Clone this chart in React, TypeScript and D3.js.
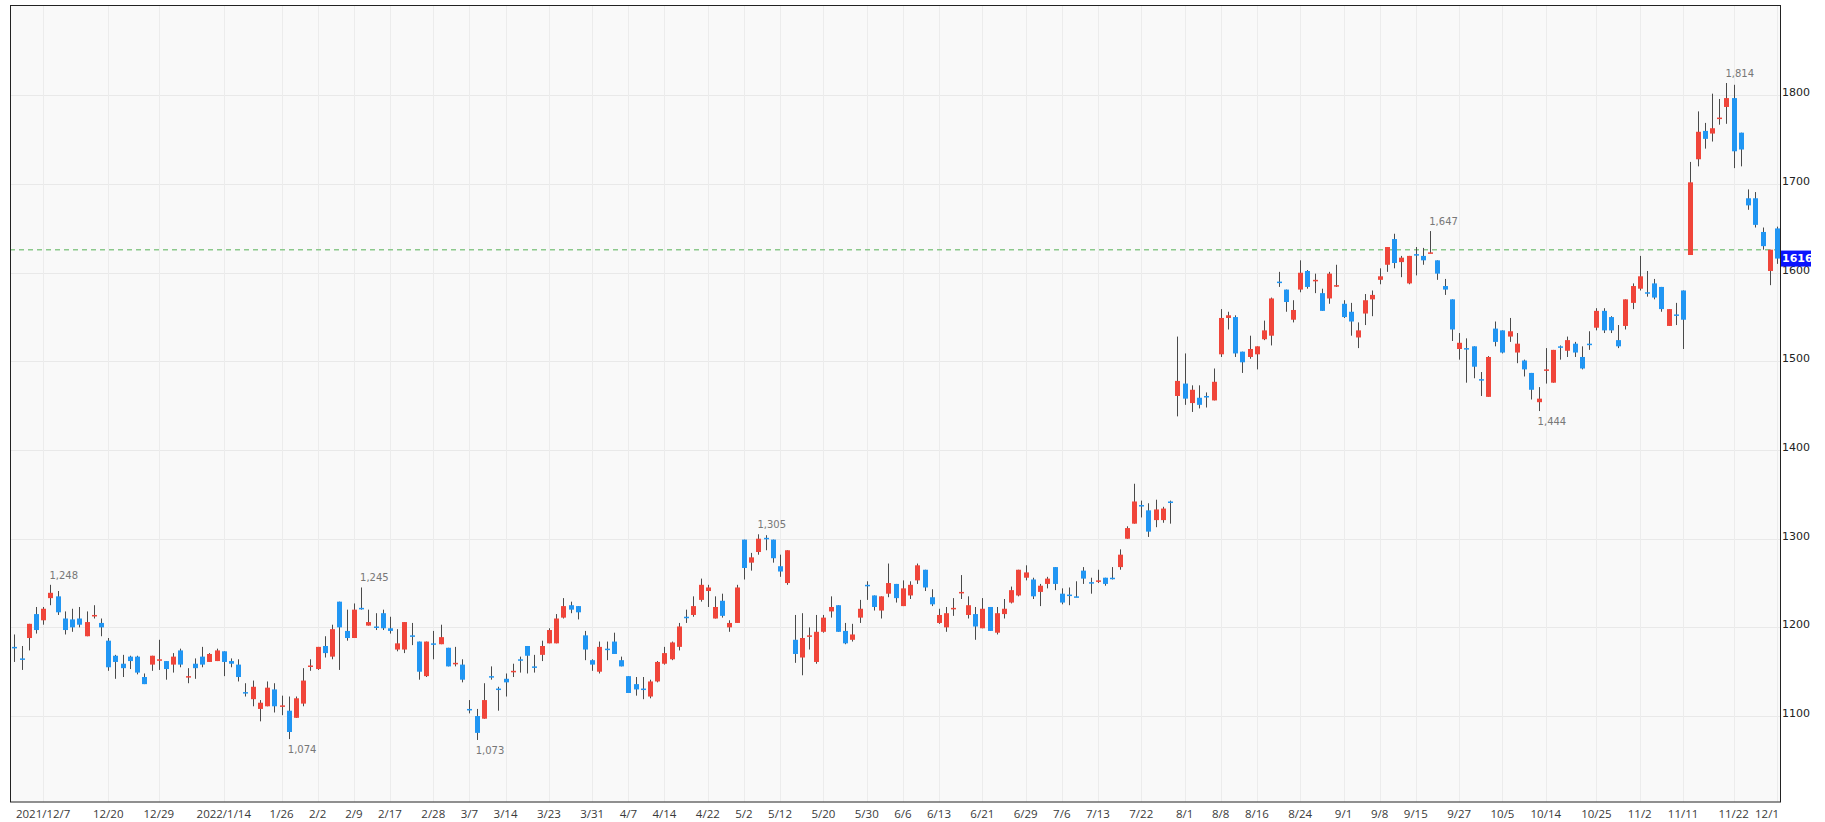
import React from "react";
import * as d3 from "d3";

// daily candles, 2021/12/1 - 2022/12/1 (Tokyo trading days)
const firstDay = "2021-12-01";
const lastDay = "2022-12-01";
const holidays = [
  "2021-12-31", "2022-01-03", "2022-01-10", "2022-02-11", "2022-02-23", "2022-03-21",
  "2022-04-29", "2022-05-03", "2022-05-04", "2022-05-05", "2022-07-18", "2022-08-11",
  "2022-09-19", "2022-09-23", "2022-10-10", "2022-11-03", "2022-11-23",
];

const openPrices = [
  1178, 1165, 1188, 1215, 1208, 1233, 1235, 1210, 1209, 1210,
  1190, 1213, 1205, 1185, 1168, 1159, 1167, 1167, 1144, 1158,
  1163, 1162, 1158, 1174, 1144, 1159, 1167, 1161, 1162, 1173,
  1162, 1158, 1127, 1119, 1108, 1111, 1130, 1111, 1106, 1098,
  1114, 1156, 1153, 1179, 1167, 1229, 1196, 1188, 1222, 1202,
  1201, 1216, 1199, 1175, 1175, 1191, 1184, 1145, 1182, 1181,
  1177, 1159, 1158, 1108, 1100, 1097, 1145, 1131, 1142, 1150,
  1164, 1179, 1156, 1169, 1182, 1182, 1211, 1225, 1224, 1191,
  1163, 1150, 1176, 1184, 1163, 1145, 1136, 1131, 1122, 1139,
  1159, 1164, 1178, 1212, 1214, 1231, 1241, 1210, 1230, 1200,
  1205, 1299, 1273, 1285, 1301, 1299, 1269, 1250, 1186, 1166,
  1190, 1161, 1195, 1218, 1225, 1196, 1186, 1211, 1248, 1236,
  1219, 1238, 1249, 1224, 1236, 1253, 1265, 1234, 1205, 1200,
  1221, 1239, 1214, 1215, 1199, 1223, 1194, 1215, 1228, 1236,
  1256, 1254, 1240, 1249, 1268, 1238, 1237, 1235, 1264, 1251,
  1252, 1256, 1256, 1268, 1300, 1317, 1338, 1332, 1321, 1321,
  1342, 1461, 1475, 1453, 1459, 1461, 1456, 1508, 1549, 1550,
  1511, 1505, 1508, 1525, 1529, 1590, 1581, 1547, 1581, 1602,
  1591, 1577, 1571, 1585, 1565, 1556, 1527, 1554, 1570, 1592,
  1609, 1638, 1612, 1588, 1621, 1619, 1622, 1614, 1585, 1570,
  1514, 1515, 1517, 1480, 1460, 1537, 1535, 1528, 1510, 1501,
  1487, 1454, 1490, 1476, 1517, 1512, 1520, 1505, 1520, 1538,
  1557, 1550, 1524, 1540, 1566, 1582, 1578, 1588, 1584, 1540,
  1553, 1580, 1620, 1728, 1760, 1757, 1774, 1787, 1797, 1758,
  1684, 1684, 1646, 1602, 1650,
];

const highPrices = [
  1192, 1179, 1204, 1223, 1223, 1248, 1241, 1218, 1221, 1223,
  1218, 1225, 1210, 1188, 1169, 1169, 1168, 1168, 1148, 1168,
  1186, 1162, 1171, 1176, 1154, 1165, 1178, 1171, 1176, 1173,
  1165, 1164, 1137, 1140, 1118, 1139, 1137, 1123, 1122, 1122,
  1154, 1164, 1178, 1190, 1203, 1229, 1220, 1227, 1245, 1220,
  1216, 1220, 1212, 1198, 1206, 1205, 1184, 1184, 1196, 1203,
  1177, 1178, 1164, 1118, 1108, 1137, 1156, 1133, 1148, 1159,
  1167, 1179, 1169, 1185, 1199, 1215, 1233, 1229, 1224, 1196,
  1164, 1184, 1184, 1194, 1167, 1145, 1144, 1144, 1141, 1162,
  1178, 1184, 1205, 1220, 1235, 1255, 1248, 1235, 1238, 1208,
  1248, 1299, 1284, 1305, 1304, 1299, 1282, 1287, 1214, 1216,
  1200, 1214, 1214, 1235, 1225, 1205, 1204, 1231, 1252, 1236,
  1235, 1272, 1249, 1253, 1252, 1272, 1265, 1243, 1221, 1223,
  1233, 1259, 1235, 1223, 1233, 1223, 1223, 1232, 1246, 1265,
  1270, 1256, 1249, 1257, 1268, 1244, 1245, 1252, 1268, 1256,
  1265, 1256, 1268, 1288, 1314, 1362, 1343, 1340, 1344, 1336,
  1343, 1528, 1509, 1473, 1473, 1465, 1492, 1559, 1556, 1552,
  1511, 1529, 1517, 1546, 1572, 1601, 1581, 1569, 1614, 1603,
  1599, 1582, 1601, 1609, 1569, 1566, 1544, 1576, 1580, 1605,
  1629, 1644, 1619, 1619, 1629, 1628, 1647, 1614, 1593, 1570,
  1532, 1526, 1517, 1488, 1506, 1545, 1535, 1549, 1532, 1502,
  1487, 1471, 1515, 1513, 1518, 1528, 1522, 1517, 1534, 1560,
  1560, 1551, 1541, 1570, 1588, 1619, 1602, 1593, 1584, 1559,
  1566, 1580, 1725, 1782, 1769, 1802, 1796, 1814, 1812, 1758,
  1694, 1691, 1651, 1626, 1652,
];

const lowPrices = [
  1161, 1152, 1174, 1193, 1203, 1225, 1214, 1192, 1195, 1200,
  1190, 1210, 1190, 1151, 1142, 1144, 1153, 1147, 1136, 1151,
  1152, 1141, 1149, 1155, 1137, 1142, 1155, 1161, 1162, 1145,
  1155, 1139, 1122, 1111, 1094, 1111, 1104, 1101, 1074, 1098,
  1111, 1151, 1152, 1166, 1164, 1152, 1185, 1188, 1220, 1202,
  1197, 1197, 1193, 1173, 1171, 1180, 1141, 1144, 1164, 1181,
  1156, 1156, 1138, 1103, 1073, 1097, 1141, 1106, 1122, 1144,
  1149, 1148, 1149, 1162, 1182, 1182, 1210, 1216, 1209, 1163,
  1151, 1148, 1163, 1170, 1156, 1126, 1123, 1119, 1120, 1138,
  1158, 1163, 1174, 1205, 1212, 1229, 1223, 1210, 1211, 1195,
  1205, 1254, 1264, 1282, 1287, 1273, 1257, 1248, 1160, 1146,
  1175, 1159, 1194, 1211, 1195, 1181, 1184, 1205, 1231, 1219,
  1210, 1234, 1228, 1224, 1232, 1249, 1241, 1224, 1204, 1195,
  1213, 1232, 1210, 1186, 1199, 1196, 1192, 1210, 1227, 1235,
  1253, 1232, 1224, 1244, 1242, 1226, 1225, 1234, 1249, 1238,
  1250, 1247, 1254, 1265, 1300, 1317, 1324, 1302, 1313, 1318,
  1317, 1438, 1451, 1443, 1447, 1448, 1456, 1505, 1536, 1505,
  1487, 1503, 1491, 1524, 1518, 1584, 1556, 1544, 1578, 1582,
  1577, 1557, 1565, 1584, 1549, 1529, 1515, 1541, 1551, 1587,
  1601, 1605, 1595, 1587, 1597, 1609, 1622, 1592, 1575, 1523,
  1502, 1476, 1481, 1461, 1460, 1517, 1509, 1522, 1498, 1483,
  1457, 1444, 1475, 1476, 1502, 1505, 1505, 1491, 1513, 1535,
  1532, 1532, 1515, 1536, 1559, 1580, 1573, 1570, 1556, 1540,
  1541, 1514, 1620, 1720, 1740, 1748, 1767, 1768, 1718, 1720,
  1671, 1651, 1626, 1586, 1610,
];

const closePrices = [
  1177, 1164, 1204, 1197, 1221, 1239, 1217, 1197, 1200, 1203,
  1206, 1214, 1200, 1155, 1161, 1154, 1162, 1149, 1136, 1168,
  1164, 1153, 1167, 1158, 1145, 1154, 1158, 1170, 1174, 1161,
  1159, 1144, 1126, 1133, 1115, 1132, 1111, 1112, 1082, 1120,
  1140, 1157, 1178, 1171, 1198, 1200, 1188, 1220, 1221, 1206,
  1200, 1199, 1196, 1182, 1206, 1190, 1150, 1184, 1181, 1189,
  1156, 1160, 1141, 1107, 1081, 1118, 1144, 1130, 1138, 1151,
  1163, 1168, 1155, 1179, 1197, 1210, 1224, 1220, 1217, 1175,
  1158, 1178, 1175, 1170, 1156, 1126, 1130, 1130, 1139, 1161,
  1171, 1183, 1201, 1211, 1224, 1248, 1245, 1223, 1213, 1205,
  1245, 1267, 1279, 1300, 1300, 1278, 1263, 1287, 1170, 1188,
  1191, 1195, 1211, 1223, 1195, 1182, 1192, 1221, 1247, 1223,
  1235, 1250, 1233, 1244, 1248, 1270, 1245, 1226, 1214, 1216,
  1222, 1240, 1225, 1201, 1221, 1196, 1216, 1221, 1242, 1265,
  1262, 1235, 1247, 1255, 1249, 1228, 1236, 1234, 1255, 1250,
  1253, 1249, 1255, 1282, 1312, 1342, 1337, 1308, 1333, 1334,
  1341, 1478, 1458, 1468, 1451, 1460, 1477, 1549, 1552, 1509,
  1499, 1514, 1517, 1535, 1571, 1589, 1567, 1558, 1600, 1584,
  1592, 1557, 1599, 1586, 1550, 1545, 1535, 1569, 1575, 1596,
  1629, 1611, 1617, 1619, 1620, 1614, 1623, 1599, 1581, 1536,
  1521, 1514, 1494, 1479, 1505, 1522, 1510, 1534, 1520, 1491,
  1468, 1458, 1491, 1513, 1516, 1524, 1510, 1492, 1519, 1557,
  1535, 1535, 1517, 1570, 1585, 1596, 1577, 1572, 1559, 1559,
  1552, 1547, 1702, 1759, 1751, 1763, 1775, 1797, 1737, 1739,
  1676, 1654, 1630, 1626, 1616,
];

const tickDates = [
  "2021-12-07", "2021-12-20", "2021-12-29", "2022-01-14", "2022-01-26", "2022-02-02",
  "2022-02-09", "2022-02-17", "2022-02-28", "2022-03-07", "2022-03-14", "2022-03-23",
  "2022-03-31", "2022-04-07", "2022-04-14", "2022-04-22", "2022-05-02", "2022-05-12",
  "2022-05-20", "2022-05-30", "2022-06-06", "2022-06-13", "2022-06-21", "2022-06-29",
  "2022-07-06", "2022-07-13", "2022-07-22", "2022-08-01", "2022-08-08", "2022-08-16",
  "2022-08-24", "2022-09-01", "2022-09-08", "2022-09-15", "2022-09-27", "2022-10-05",
  "2022-10-14", "2022-10-25", "2022-11-02", "2022-11-11", "2022-11-22", "2022-12-01",
];
const tickLabels = [
  "2021/12/7", "12/20", "12/29", "2022/1/14", "1/26", "2/2",
  "2/9", "2/17", "2/28", "3/7", "3/14", "3/23",
  "3/31", "4/7", "4/14", "4/22", "5/2", "5/12",
  "5/20", "5/30", "6/6", "6/13", "6/21", "6/29",
  "7/6", "7/13", "7/22", "8/1", "8/8", "8/16",
  "8/24", "9/1", "9/8", "9/15", "9/27", "10/5",
  "10/14", "10/25", "11/2", "11/11", "11/22", "12/1",
];

const priceTicks = [1100, 1200, 1300, 1400, 1500, 1600, 1700, 1800];

// local highs / lows that get a price note
const markIndex = [5, 38, 48, 64, 103, 196, 211, 237];
const markKind = ["high", "low", "high", "low", "high", "high", "low", "high"];

function tradingDays() {
  const out: string[] = [];
  const fmt = d3.utcFormat("%Y-%m-%d");
  const days = d3.utcDay.range(new Date(firstDay + "T00:00:00Z"), d3.utcDay.offset(new Date(lastDay + "T00:00:00Z"), 1));
  days.forEach((d) => {
    const wd = d.getUTCDay();
    const key = fmt(d);
    if (wd === 0 || wd === 6) return;
    if (holidays.includes(key)) return;
    out.push(key);
  });
  return out;
}

const left = 10, top = 5, right = 1780, bottom = 801.5;
const upColor = "#f0453a";
const downColor = "#2196f3";

export default function App() {
  const dates = tradingDays();
  const x = d3.scalePoint<string>().domain(dates).range([14.3, 1777]);
  const y = d3.scaleLinear().domain([1003.6, 1902]).range([bottom, top]);
  const fmtNum = d3.format(",");

  const lastIdx = closePrices.length - 1;
  const prevClose = closePrices[lastIdx - 1];
  const lastClose = closePrices[lastIdx];
  const bodyW = 5;

  return (
    <svg width={1825} height={822} style={{ position: "absolute", left: 0, top: 0, background: "#fff" }}>
      <defs>
        <clipPath id="plot">
          <rect x={left} y={top} width={right - left} height={bottom - top} />
        </clipPath>
      </defs>
      <rect x={left} y={top} width={right - left} height={bottom - top} fill="#f9f9f9" />

      {/* grid */}
      {priceTicks.map((v) => (
        <line key={"h" + v} x1={left} x2={right} y1={Math.round(y(v)) + 0.5} y2={Math.round(y(v)) + 0.5} stroke="#e9e9e9" />
      ))}
      {tickDates.map((d) => {
        const xx = Math.round(x(d) ?? 0) + 0.5;
        return <line key={"v" + d} x1={xx} x2={xx} y1={top} y2={bottom} stroke="#ececec" />;
      })}

      {/* previous close */}
      <line x1={left} x2={right} y1={y(prevClose)} y2={y(prevClose)} stroke="#8cc98c" strokeWidth={1.5} strokeDasharray="5,4" />

      <g clipPath="url(#plot)">
        {dates.map((d, i) => {
          const o = openPrices[i], c = closePrices[i];
          const cx = Math.round(x(d) ?? 0);
          const up = c >= o;
          const yTop = y(Math.max(o, c));
          const yBot = y(Math.min(o, c));
          const h = Math.max(1.5, yBot - yTop);
          return (
            <g key={d}>
              <line x1={cx + 0.5} x2={cx + 0.5} y1={y(highPrices[i])} y2={y(lowPrices[i])} stroke="#4a4a4a" strokeWidth={1} />
              <rect x={cx - 2} y={yTop} width={bodyW} height={h} fill={up ? upColor : downColor} />
            </g>
          );
        })}
      </g>

      {/* high / low notes */}
      {markIndex.map((idx, k) => {
        const cx = x(dates[idx]) ?? 0;
        const isHigh = markKind[k] === "high";
        const v = isHigh ? highPrices[idx] : lowPrices[idx];
        return (
          <text key={"m" + idx} x={cx - 1} y={isHigh ? y(v) - 6 : y(v) + 14} fontSize={10}
            fontFamily="DejaVu Sans, sans-serif" fill="#777">
            {fmtNum(v)}
          </text>
        );
      })}

      {/* frame */}
      <rect x={left + 0.5} y={top + 0.5} width={right - left} height={bottom - top} fill="none" stroke="#222" strokeWidth={1} />

      {/* price axis */}
      {priceTicks.map((v) => (
        <text key={"t" + v} x={right + 2} y={y(v) - 2} dominantBaseline="middle" fontSize={11}
          fontFamily="DejaVu Sans, sans-serif" fill="#222">
          {v}
        </text>
      ))}
      <rect x={right + 1} y={y(lastClose) - 8} width={30} height={16} fill="#0a14ff" />
      <text x={right + 2} y={y(lastClose) + 0.5} dominantBaseline="middle" fontSize={11} fontWeight="bold"
        fontFamily="DejaVu Sans, sans-serif" fill="#fff">
        {lastClose}
      </text>

      {/* date axis */}
      {tickDates.map((d, k) => (
        <text key={"x" + d} x={Math.min(x(d) ?? 0, 1767)} y={818} textAnchor="middle" fontSize={11.5}
          fontFamily="Open Sans, Liberation Sans, sans-serif" fill="#3a3a3a">
          {tickLabels[k]}
        </text>
      ))}
    </svg>
  );
}
